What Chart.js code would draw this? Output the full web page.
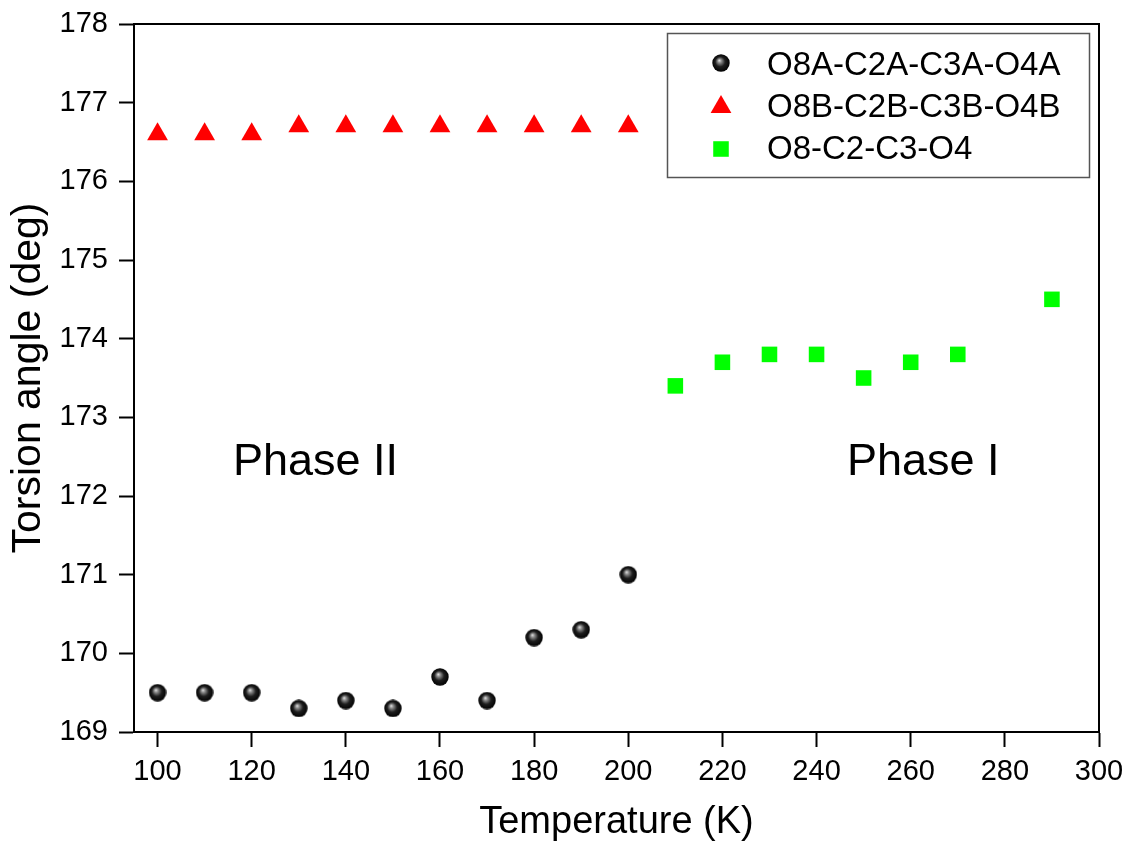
<!DOCTYPE html>
<html>
<head>
<meta charset="utf-8">
<script src="https://cdn.jsdelivr.net/npm/chart.js@4"></script>
<style>
  html, body { margin: 0; padding: 0; background: #fff; }
  #wrap { width: 1128px; height: 845px; }
</style>
</head>
<body>
<div id="wrap"><canvas id="myChart" width="1128" height="845"></canvas></div>
<script>
const temps = [100, 110, 120, 130, 140, 150, 160, 170, 180, 190, 200];
const angleA = [169.5, 169.5, 169.5, 169.3, 169.4, 169.3, 169.7, 169.4, 170.2, 170.3, 171.0];
const angleB = [176.6, 176.6, 176.6, 176.7, 176.7, 176.7, 176.7, 176.7, 176.7, 176.7, 176.7];
const tempsHigh = [210, 220, 230, 240, 250, 260, 270, 290];
const angleHigh = [173.4, 173.7, 173.8, 173.8, 173.5, 173.7, 173.8, 174.5];
const seriesNames = ["O8A-C2A-C3A-O4A", "O8B-C2B-C3B-O4B", "O8-C2-C3-O4"];
const xTicks = [100, 120, 140, 160, 180, 200, 220, 240, 260, 280, 300];
const yTicks = [169, 170, 171, 172, 173, 174, 175, 176, 177, 178];

const FONT = "'Liberation Sans', Arial, sans-serif";

// shaded black ball used as the marker of the first series
function makeBall(size) {
  const c = document.createElement("canvas");
  c.width = size;
  c.height = size;
  const g = c.getContext("2d");
  const r = size / 2;
  const grad = g.createRadialGradient(r * 0.8, r * 0.7, 0, r, r, r);
  grad.addColorStop(0, "#e8e8e8");
  grad.addColorStop(0.22, "#8a8a8a");
  grad.addColorStop(0.55, "#1e1e1e");
  grad.addColorStop(1, "#000000");
  g.fillStyle = grad;
  g.beginPath();
  g.arc(r, r, r - 0.3, 0, Math.PI * 2);
  g.fill();
  return c;
}
const ball = makeBall(18);

function pairs(xs, ys) {
  return xs.map((x, i) => ({ x: x, y: ys[i] }));
}

const frame = {
  id: "frame",
  afterDatasetsDraw(chart) {
    const a = chart.chartArea;
    const ctx = chart.ctx;
    ctx.save();
    ctx.strokeStyle = "#000";
    ctx.lineWidth = 2;
    ctx.beginPath();
    ctx.moveTo(a.left, a.top);
    ctx.lineTo(a.right, a.top);
    ctx.lineTo(a.right, a.bottom);
    ctx.stroke();
    ctx.restore();
  },
};

const notes = {
  id: "notes",
  afterDraw(chart) {
    const ctx = chart.ctx;
    ctx.save();
    ctx.fillStyle = "#000";
    ctx.font = "45px " + FONT;
    ctx.textBaseline = "alphabetic";
    ctx.textAlign = "left";
    ctx.fillText("Phase II", 233, 475);
    ctx.fillText("Phase I", 847, 475);

    // legend box
    ctx.fillStyle = "#fff";
    ctx.fillRect(667, 33, 423, 145);
    ctx.strokeStyle = "#555";
    ctx.lineWidth = 1.5;
    ctx.strokeRect(667.5, 33.5, 422, 144);

    const styles = [
      { pointStyle: ball, radius: 9, color: "#000" },
      { pointStyle: "triangle", radius: 12, color: "#ff0000" },
      { pointStyle: "rect", radius: 11, color: "#00ff00" },
    ];
    const markY = [63, 107, 149];
    const textY = [75, 117, 159];
    ctx.font = "33px " + FONT;
    for (let i = 0; i < seriesNames.length; i++) {
      const s = styles[i];
      ctx.fillStyle = s.color;
      ctx.strokeStyle = s.color;
      Chart.helpers.drawPoint(ctx, { pointStyle: s.pointStyle, radius: s.radius, rotation: 0, borderWidth: 0 }, 721, markY[i]);
      ctx.fillStyle = "#000";
      ctx.fillText(seriesNames[i], 767, textY[i]);
    }
    ctx.restore();
  },
};

function noEdgePadding(scale) {
  scale.paddingTop = 0;
  scale.paddingBottom = 0;
  scale.paddingLeft = 0;
  scale.paddingRight = 0;
}

const ctx = document.getElementById("myChart").getContext("2d");
const myChart = new Chart(ctx, {
  type: "scatter",
  data: {
    datasets: [
      {
        label: seriesNames[0],
        data: pairs(temps, angleA),
        pointStyle: ball,
        pointRadius: 9,
        backgroundColor: "#000",
        borderWidth: 0,
      },
      {
        label: seriesNames[1],
        data: pairs(temps, angleB),
        pointStyle: "triangle",
        pointRadius: 12,
        backgroundColor: "#ff0000",
        borderColor: "#ff0000",
        borderWidth: 0,
      },
      {
        label: seriesNames[2],
        data: pairs(tempsHigh, angleHigh),
        pointStyle: "rect",
        pointRadius: 11,
        backgroundColor: "#00ff00",
        borderColor: "#00ff00",
        borderWidth: 0,
      },
    ],
  },
  options: {
    responsive: false,
    animation: false,
    layout: { autoPadding: false, padding: { top: 24, right: 29, left: 0, bottom: 0 } },
    plugins: {
      legend: { display: false },
      tooltip: { enabled: false },
    },
    scales: {
      x: {
        type: "linear",
        min: 95,
        max: 300,
        afterBuildTicks: (scale) => {
          scale.ticks = xTicks.map((v) => ({ value: v }));
        },
        afterFit: (scale) => {
          scale.height = 113;
          noEdgePadding(scale);
        },
        grid: { drawOnChartArea: false, tickLength: 15, tickWidth: 2, tickColor: "#000" },
        border: { color: "#000", width: 2 },
        ticks: { color: "#000", font: { family: FONT, size: 29 }, padding: 8, maxRotation: 0 },
        title: {
          display: true,
          text: "Temperature (K)",
          color: "#000",
          font: { family: FONT, size: 38 },
          padding: { top: 0, bottom: 0 },
        },
      },
      y: {
        type: "linear",
        min: 169,
        max: 178,
        afterBuildTicks: (scale) => {
          scale.ticks = yTicks.map((v) => ({ value: v }));
        },
        afterFit: (scale) => {
          scale.width = 134;
          noEdgePadding(scale);
        },
        grid: { drawOnChartArea: false, tickLength: 15, tickWidth: 2, tickColor: "#000" },
        border: { color: "#000", width: 2 },
        ticks: { color: "#000", font: { family: FONT, size: 29 }, padding: 11 },
        title: {
          display: true,
          text: "Torsion angle (deg)",
          color: "#000",
          font: { family: FONT, size: 41 },
          padding: { top: 4, bottom: 0 },
        },
      },
    },
  },
  plugins: [frame, notes],
});
</script>
</body>
</html>
